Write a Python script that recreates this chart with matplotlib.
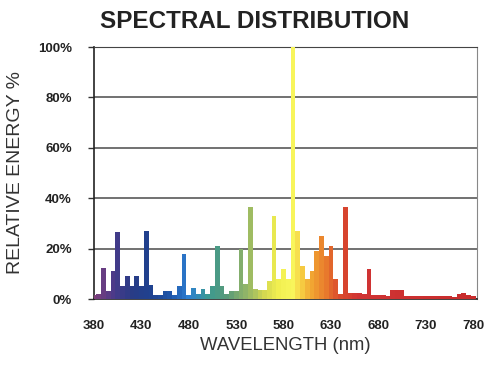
import matplotlib
matplotlib.use("Agg")
import matplotlib.pyplot as plt
from matplotlib.colors import LinearSegmentedColormap, Normalize

# Spectrum values (relative energy %, 5 nm bins)
wavelength = list(range(380, 785, 5))
energy = [
    1.5, 2, 12.5, 3, 11, 26.5, 5, 9, 5, 9,          # 380-425
    5, 27, 5.5, 1.5, 1.5, 3, 3, 1.5, 5, 18,         # 430-475
    1.5, 4.5, 2, 4, 2, 5, 21, 5, 2, 3,              # 480-525
    3, 20, 6, 36.5, 4, 3.5, 3.5, 7, 33, 8,          # 530-575
    12, 8, 100, 27, 13, 8, 11, 19, 25, 17,          # 580-625
    21, 8, 2, 36.5, 2.5, 2.5, 2.5, 2, 12, 1.5,      # 630-675
    1.5, 1.5, 1, 3.5, 3.5, 3.5, 1, 1, 1, 1,         # 680-725
    1, 1, 1, 1, 1, 1, 0.8, 2, 2.5, 1.5,             # 730-775
    1,                                              # 780
]

x_ticks = [380, 430, 480, 530, 580, 630, 680, 730, 780]
y_ticks = [0, 20, 40, 60, 80, 100]

# wavelength -> colour
stops = [
    (380, "#80407a"), (400, "#4a3a8a"), (420, "#283c86"), (440, "#1f4290"),
    (460, "#1f55a8"), (480, "#2e7fd2"), (500, "#3a9a92"), (520, "#5a9a78"),
    (540, "#8fb468"), (560, "#d4d850"), (575, "#f2f050"), (590, "#f8f65c"),
    (600, "#f6c840"), (612, "#f0a030"), (625, "#e8782c"), (640, "#da4a2c"),
    (660, "#d03434"), (780, "#c82c2c"),
]
lo, hi = stops[0][0], stops[-1][0]
cmap = LinearSegmentedColormap.from_list(
    "spec", [((w - lo) / (hi - lo), c) for w, c in stops])
norm = Normalize(lo, hi)

plt.rcParams["font.family"] = ["Liberation Sans", "DejaVu Sans"]

fig = plt.figure(figsize=(4.85, 3.73), dpi=100)
ax = fig.add_axes([94 / 485, 1 - 299 / 373, 383 / 485, 252 / 373])

ax.bar(wavelength, energy, width=5, color=[cmap(norm(w)) for w in wavelength],
       linewidth=0, zorder=3)

ax.set_xlim(380, 784)
ax.set_ylim(0, 100)
ax.set_yticks(y_ticks)
ax.set_yticklabels([f"{v}%" for v in y_ticks], fontweight="bold", fontsize=9.5,
                   color="#222222")
ax.set_xticks(x_ticks)
ax.set_xticklabels([str(v) for v in x_ticks], fontweight="bold", fontsize=9.5,
                   color="#222222")
ax.tick_params(axis="y", length=4, width=1, pad=12, color="#333333")
ax.tick_params(axis="x", length=0, pad=15)
ax.grid(axis="y", color="#4a4a4a", linewidth=1.1, zorder=1)

for s in ["left", "bottom"]:
    ax.spines[s].set_color("#222222")
    ax.spines[s].set_linewidth(1.2)
ax.spines["right"].set_color("#888888")
ax.spines["top"].set_color("#444444")

fig.text(255 / 485, 1 - 22 / 373, "SPECTRAL DISTRIBUTION", ha="center",
         va="center", fontsize=17.5, fontweight="bold", color="#222222")
fig.text(16 / 485, 1 - 172 / 373, "RELATIVE ENERGY %", rotation=90,
         ha="center", va="center", fontsize=14, color="#333333")
fig.text(285 / 485, 1 - 345 / 373, "WAVELENGTH (nm)", ha="center",
         va="center", fontsize=13.3, color="#333333")

fig.savefig("out.png", dpi=100)
